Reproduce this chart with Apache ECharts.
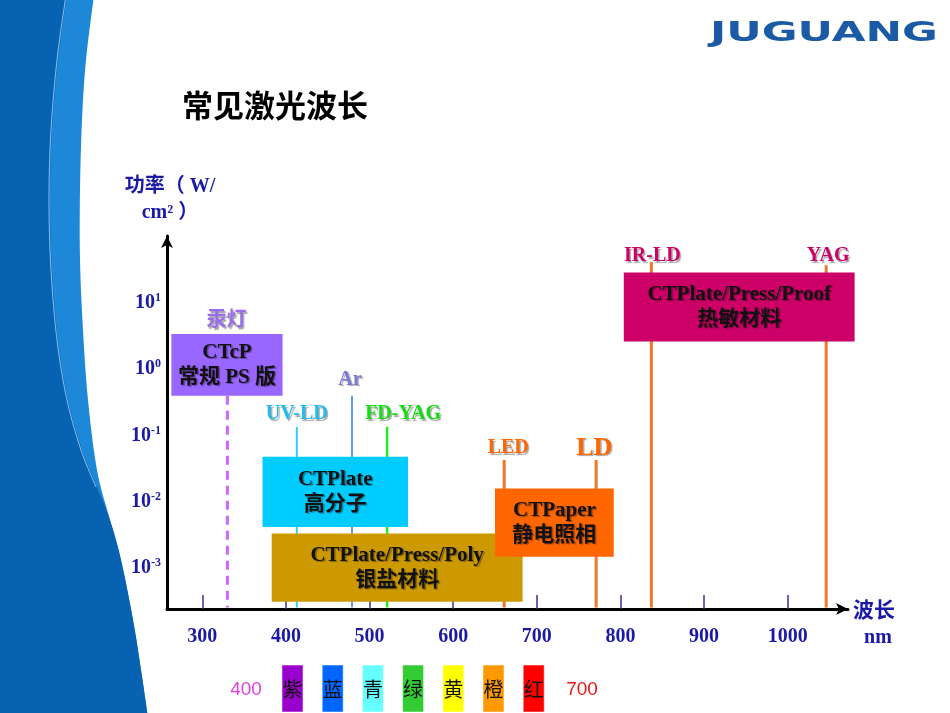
<!DOCTYPE html>
<html><head><meta charset="utf-8">
<script src="https://cdn.jsdelivr.net/npm/echarts@6/dist/echarts.min.js"></script>
<style>html,body{margin:0;padding:0;background:#fff}#c{width:950px;height:713px}</style>
</head><body><div id="c"></div>
<script>
// ---------- data ----------
const xTickValues = [300, 400, 500, 600, 700, 800, 900, 1000];
const yTickExponents = [-3, -2, -1, 0, 1];

const boxLine1 = ['CTcP', 'CTPlate', 'CTPlate/Press/Poly', 'CTPaper', 'CTPlate/Press/Proof'];
const boxLine2 = ['常规 PS 版', '高分子', '银盐材料', '静电照相', '热敏材料'];
const boxStartNm = [263, 372, 383, 650, 804];
const boxEndNm = [396, 546, 683, 792, 1080];
const boxTopLog = [0.53, -1.32, -2.48, -1.80, 1.46];
const boxBottomLog = [-0.40, -2.38, -3.51, -2.83, 0.42];

const laserNames = ['汞灯', 'UV-LD', 'Ar', 'FD-YAG', 'LED', 'LD', 'IR-LD', 'YAG'];
const laserNm = [330, 413, 479, 521, 661, 771, 837, 1046];
const laserTopLog = [-0.40, -0.87, -0.40, -0.87, -1.37, -1.37, 1.62, 1.57];

const spectrumNames = ['紫', '蓝', '青', '绿', '黄', '橙', '红'];
const spectrumEnds = ['400', '700'];

// ---------- styles ----------
const X_MIN = 257.8, X_MAX = 1072.1, Y_MIN = -3.619, Y_MAX = 2.011;
const AXIS_BLUE = '#1a1aa6';
const SERIF = 'Liberation Serif, Noto Sans CJK SC';
const boxColors = ['#9966ff', '#00ccff', '#cc9900', '#ff6600', '#cc0066'];
const laserStyles = [
  {color: '#cc66ff', width: 3, dash: [9, 6], label: '#9a6cec', dx: -1, dy: -77, size: 20, family: 'Noto Sans CJK SC'},
  {color: '#33ccff', width: 2, label: '#22bbee', dx: 0, dy: -13, size: 20},
  {color: '#6699ff', width: 2, label: '#7b7bd6', dx: -2, dy: -16, size: 20},
  {color: '#22ee22', width: 2.5, label: '#11dd11', dx: 16, dy: -13, size: 20},
  {color: '#f07828', width: 3, label: '#ff6600', dx: 4, dy: -12, size: 20},
  {color: '#f07828', width: 3, label: '#ff6600', dx: -2, dy: -12, size: 26},
  {color: '#f07828', width: 3, label: '#cc0066', dx: 1, dy: -6, size: 20},
  {color: '#f07828', width: 3, label: '#cc0066', dx: 2, dy: -9, size: 20}
];
const spectrumColors = ['#9900cc', '#0066ff', '#66ffff', '#33cc33', '#ffff00', '#ff9900', '#ff0000'];

// ---------- decoration helpers ----------
function catmull(pts, n) {
  const out = [];
  for (let i = 0; i < pts.length - 1; i++) {
    const p0 = pts[Math.max(i - 1, 0)], p1 = pts[i], p2 = pts[i + 1], p3 = pts[Math.min(i + 2, pts.length - 1)];
    for (let t = 0; t < n; t++) {
      const s = t / n, s2 = s * s, s3 = s2 * s;
      const f = k => 0.5 * (2 * p1[k] + (-p0[k] + p2[k]) * s + (2 * p0[k] - 5 * p1[k] + 4 * p2[k] - p3[k]) * s2 + (-p0[k] + 3 * p1[k] - 3 * p2[k] + p3[k]) * s3);
      out.push([f(0), f(1)]);
    }
  }
  out.push(pts[pts.length - 1]);
  return out;
}
const outerEdge = catmull([[94,-5],[86,60],[82,120],[80,190],[80,260],[83,330],[88,400],[97,470],[110,520],[121,560],[133,620],[141,670],[148,718]], 10);
const darkEdge = catmull([[67,-5],[58,60],[52,130],[50,200],[52,270],[58,340],[68,400],[82,450],[97,487],[110,520],[121,560],[133,620],[141,670],[148,718]], 10);
const innerLine = catmull([[66,-5],[57,60],[51,130],[49,200],[51,270],[57,340],[67,400],[81,450],[96,487]], 10);

const graphics = [
  {type: 'polygon', shape: {points: outerEdge.concat([[-5, 718], [-5, -5]])}, style: {fill: '#1e88d8'}, z: 0},
  {type: 'polygon', shape: {points: darkEdge.concat([[-5, 718], [-5, -5]])}, style: {fill: '#0862b2'}, z: 0},
  {type: 'polyline', shape: {points: innerLine}, style: {stroke: 'rgba(200,230,255,0.7)', lineWidth: 1, fill: null}, z: 0},
  {type: 'text', x: 710, y: 34, scaleX: 1.68, style: {text: 'JUGUANG', fill: '#1b5aa5', fontSize: 26, fontWeight: 'bold', fontFamily: 'DejaVu Sans', verticalAlign: 'middle', align: 'left'}, z: 1},
  {type: 'text', x: 878, y: 638, style: {text: 'nm', fill: AXIS_BLUE, fontSize: 20, fontWeight: 'bold', fontFamily: SERIF, align: 'center', verticalAlign: 'middle'}, z: 1},
  {type: 'text', x: 246, y: 690, style: {text: spectrumEnds[0], fill: '#e040e0', fontSize: 19, fontFamily: 'Liberation Sans', align: 'center', verticalAlign: 'middle'}, z: 1},
  {type: 'text', x: 582, y: 690, style: {text: spectrumEnds[1], fill: '#e01818', fontSize: 19, fontFamily: 'Liberation Sans', align: 'center', verticalAlign: 'middle'}, z: 1}
];
spectrumNames.forEach((name, i) => {
  const left = 282 + i * 40.2;
  graphics.push({type: 'rect', shape: {x: left, y: 665, width: 21, height: 47}, style: {fill: spectrumColors[i], stroke: 'rgba(255,255,255,0.5)', lineWidth: 1}, z: 1});
  graphics.push({type: 'text', x: left + 10.5, y: 689, style: {text: name, fill: '#111', fontSize: 20, fontFamily: 'Noto Sans CJK SC', align: 'center', verticalAlign: 'middle'}, z: 2});
});

const shadow = {textShadowColor: 'rgba(0,0,0,0.35)', textShadowOffsetX: 1.5, textShadowOffsetY: 1.5, textShadowBlur: 1};

const option = {
  backgroundColor: '#ffffff',
  animation: false,
  title: {
    text: '常见激光波长', left: 177, top: 85,
    textStyle: {fontSize: 31, fontWeight: 'bold', color: '#000', fontFamily: 'Noto Sans CJK SC'}
  },
  grid: {left: 167, right: 102, top: 236, bottom: 104, containLabel: false},
  xAxis: {
    type: 'value', min: X_MIN, max: X_MAX,
    name: '波长', nameLocation: 'end', nameGap: 5,
    nameTextStyle: {color: AXIS_BLUE, fontSize: 21, fontWeight: 'bold', fontFamily: 'Noto Sans CJK SC'},
    axisLine: {show: true, onZero: false, symbol: ['none', 'arrow'], symbolSize: [9, 12], lineStyle: {color: '#000', width: 3}},
    axisTick: {show: true, inside: true, length: 14, customValues: xTickValues, lineStyle: {color: '#333399', width: 1.5}},
    axisLabel: {customValues: xTickValues, margin: 18, color: AXIS_BLUE, fontSize: 20, fontWeight: 'bold', fontFamily: SERIF, formatter: v => String(v)},
    splitLine: {show: false}
  },
  yAxis: {
    type: 'value', min: Y_MIN, max: Y_MAX,
    name: '功率（ W/\ncm² ）', nameLocation: 'end', nameGap: 10,
    nameTextStyle: {color: AXIS_BLUE, fontSize: 20, fontWeight: 'bold', fontFamily: SERIF, lineHeight: 26, align: 'center', verticalAlign: 'bottom', padding: [0, 0, 0, 6]},
    axisLine: {show: true, onZero: false, symbol: ['none', 'arrow'], symbolSize: [9, 12], lineStyle: {color: '#000', width: 3}},
    axisTick: {show: false},
    axisLabel: {
      customValues: yTickExponents, margin: 6,
      formatter: v => '{b|10}{s|' + v + '}',
      rich: {
        b: {color: AXIS_BLUE, fontSize: 20, fontWeight: 'bold', fontFamily: SERIF, lineHeight: 22},
        s: {color: AXIS_BLUE, fontSize: 12, fontWeight: 'bold', fontFamily: SERIF, verticalAlign: 'top', lineHeight: 14}
      }
    },
    splitLine: {show: false}
  },
  graphic: graphics,
  series: [
    {
      type: 'custom', name: 'lasers', z: 2,
      data: laserNm.map((w, i) => [w, laserTopLog[i]]),
      encode: {x: 0, y: 1},
      renderItem: (params, api) => {
        const i = params.dataIndex;
        const st = laserStyles[i];
        const top = api.coord([api.value(0), api.value(1)]);
        const bottom = api.coord([api.value(0), Y_MIN]);
        return {type: 'group', children: [
          {type: 'line', shape: {x1: top[0], y1: top[1], x2: bottom[0], y2: bottom[1] - 1.5},
           style: {stroke: st.color, lineWidth: st.width, lineDash: st.dash || null}},
          {type: 'text', x: top[0] + st.dx, y: top[1] + st.dy,
           style: Object.assign({text: laserNames[i], fill: st.label, fontSize: st.size, fontWeight: 'bold',
             fontFamily: st.family || SERIF, align: 'center', verticalAlign: 'middle'}, shadow)}
        ]};
      }
    },
    {
      type: 'custom', name: 'materials', z: 3,
      data: boxStartNm.map((s, i) => [s, boxEndNm[i], boxTopLog[i], boxBottomLog[i]]),
      encode: {x: [0, 1], y: [2, 3]},
      renderItem: (params, api) => {
        const i = params.dataIndex;
        const p0 = api.coord([api.value(0), api.value(2)]);
        const p1 = api.coord([api.value(1), api.value(3)]);
        return {
          type: 'rect',
          shape: {x: p0[0], y: p0[1], width: p1[0] - p0[0], height: p1[1] - p0[1]},
          style: {fill: boxColors[i]},
          textContent: {
            style: {
              text: '{a|' + boxLine1[i] + '}\n{b|' + boxLine2[i] + '}',
              align: 'center', verticalAlign: 'middle',
              rich: {
                a: Object.assign({fill: '#111', fontSize: 21, fontWeight: 'bold', fontFamily: SERIF, lineHeight: 25}, shadow),
                b: Object.assign({fill: '#111', fontSize: 21, fontWeight: 'bold', fontFamily: SERIF, lineHeight: 25}, shadow)
              }
            }
          },
          textConfig: {position: 'inside'}
        };
      }
    }
  ]
};

const chart = echarts.init(document.getElementById('c'), null, {renderer: 'canvas'});
chart.setOption(option);
</script>
</body></html>
